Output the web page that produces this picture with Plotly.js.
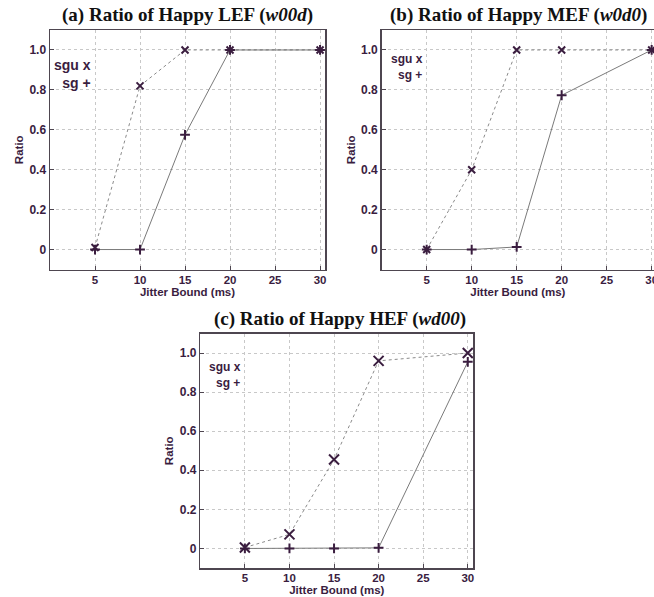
<!DOCTYPE html>
<html><head><meta charset="utf-8">
<script src="https://cdn.plot.ly/plotly-3.0.1.min.js"></script>
<style>html,body{margin:0;padding:0;background:#fff}#plot{width:654px;height:597px}</style>
</head><body><div id="plot"></div>
<script>
// Data
const jitter = [5, 10, 15, 20, 30];
const xTicks = [5, 10, 15, 20, 25, 30];
const yTickVals = [0, 0.2, 0.4, 0.6, 0.8, 1.0];
const yTickText = ['0', '0.2', '0.4', '0.6', '0.8', '1.0'];

const lefSgu = [0.01, 0.82, 1.0, 1.0, 1.0];
const lefSg  = [0.0, 0.0, 0.575, 1.0, 1.0];
const mefSgu = [0.0, 0.40, 1.0, 1.0, 1.0];
const mefSg  = [0.0, 0.0, 0.013, 0.773, 1.0];
const hefSgu = [0.005, 0.072, 0.455, 0.96, 1.0];
const hefSg  = [0.0, 0.0, 0.0, 0.003, 0.955];

const titles = [
  '<b>(a) Ratio of Happy LEF (<i>w00d</i>)</b>',
  '<b>(b) Ratio of Happy MEF (<i>w0d0</i>)</b>',
  '<b>(c) Ratio of Happy HEF (<i>wd00</i>)</b>'
];
const xTitle = 'Jitter Bound (ms)';
const yTitle = 'Ratio';

const W = 654, H = 597;
const purple = '#3a1d3f';
const frame = '#4e4650';

function px(a, b) { return [a / W, b / W]; }
function py(top, bottom) { return [1 - bottom / H, 1 - top / H]; }

function traces(sgu, sg, xa, ya, msz) {
  return [
    {x: jitter, y: sgu, xaxis: xa, yaxis: ya, mode: 'lines+markers', type: 'scatter',
     line: {color: '#8a8a8a', width: 1, dash: 'dot'},
     marker: {symbol: 'x-thin-open', size: msz, color: purple, line: {color: purple, width: 2}},
     cliponaxis: false, showlegend: false},
    {x: jitter, y: sg, xaxis: xa, yaxis: ya, mode: 'lines+markers', type: 'scatter',
     line: {color: '#7a7a7a', width: 1},
     marker: {symbol: 'cross-thin-open', size: 7, color: purple, line: {color: purple, width: 2}},
     cliponaxis: false, showlegend: false}
  ];
}

const data = [].concat(
  traces(lefSgu, lefSg, 'x', 'y', 7),
  traces(mefSgu, mefSg, 'x2', 'y2', 7),
  traces(hefSgu, hefSg, 'x3', 'y3', 10)
);

const tickFont = {family: 'Liberation Sans, Arial, sans-serif', size: 12, color: purple, weight: 700};
const xTickFont = {family: 'Liberation Sans, Arial, sans-serif', size: 11.5, color: purple, weight: 700};
const titleFont = {family: 'Liberation Sans, Arial, sans-serif', size: 11.5, color: purple, weight: 700};

function xaxis(domain, range, anchor) {
  return {domain: domain, range: range, anchor: anchor, tickvals: xTicks, ticks: 'inside', ticklen: 4,
    tickcolor: frame, showline: true, linecolor: frame, linewidth: 1.5, mirror: true,
    showgrid: true, gridcolor: '#c8c8c8', griddash: 'dot', gridwidth: 1, zeroline: false,
    ticklabeloverflow: 'allow', ticklabelstandoff: -1,
    tickfont: xTickFont, title: {text: xTitle, font: titleFont, standoff: 0}, fixedrange: true};
}
function yaxis(domain, anchor, mirror) {
  return {domain: domain, range: [-0.1, 1.1], anchor: anchor, tickvals: yTickVals, ticktext: yTickText,
    ticks: 'inside', ticklen: 4, tickcolor: frame, showline: true, linecolor: frame, linewidth: 1.5,
    mirror: mirror, showgrid: true, gridcolor: '#c8c8c8', griddash: 'dot', gridwidth: 1, zeroline: false,
    tickfont: tickFont, title: {text: yTitle, font: titleFont, standoff: 3}, fixedrange: true};
}

const tFont = {family: 'Liberation Serif, Times New Roman, serif', size: 19, color: '#111'};

const layout = {
  width: W, height: H, margin: {l: 0, r: 0, t: 0, b: 0},
  paper_bgcolor: '#fff', plot_bgcolor: '#fff', showlegend: false,
  xaxis: xaxis(px(50, 325), [0, 30.55], 'y'),
  yaxis: yaxis(py(30, 269.5), 'x', true),
  xaxis2: xaxis(px(381.7, 654), [0, 30.26], 'y2'),
  yaxis2: yaxis(py(30, 269.5), 'x2', false),
  xaxis3: xaxis(px(200.3, 473.3), [0, 30.62], 'y3'),
  yaxis3: yaxis(py(333.5, 568), 'x3', true),
  annotations: [
    {text: titles[0], x: 187 / W, y: 1 - 15 / H, xref: 'paper', yref: 'paper', showarrow: false,
     xanchor: 'center', yanchor: 'middle', font: tFont},
    {text: titles[1], x: 518 / W, y: 1 - 15 / H, xref: 'paper', yref: 'paper', showarrow: false,
     xanchor: 'center', yanchor: 'middle', font: tFont},
    {text: titles[2], x: 340 / W, y: 1 - 319 / H, xref: 'paper', yref: 'paper', showarrow: false,
     xanchor: 'center', yanchor: 'middle', font: tFont},
    {text: '<b>sgu x<br>sg +</b>', x: 93 / W, y: 1 - 74 / H, xref: 'paper', yref: 'paper', showarrow: false,
     xanchor: 'right', yanchor: 'middle', align: 'right',
     font: {family: 'Liberation Sans, Arial, sans-serif', size: 14, color: purple}},
    {text: 'sgu x<br>sg +', x: 425 / W, y: 1 - 67 / H, xref: 'paper', yref: 'paper', showarrow: false,
     xanchor: 'right', yanchor: 'middle', align: 'right',
     font: {family: 'Liberation Sans, Arial, sans-serif', size: 12, color: purple, weight: 600}},
    {text: 'sgu x<br>sg +', x: 243 / W, y: 1 - 375 / H, xref: 'paper', yref: 'paper', showarrow: false,
     xanchor: 'right', yanchor: 'middle', align: 'right',
     font: {family: 'Liberation Sans, Arial, sans-serif', size: 12, color: purple, weight: 600}}
  ]
};

Plotly.newPlot('plot', data, layout, {staticPlot: true, displayModeBar: false});
</script></body></html>
